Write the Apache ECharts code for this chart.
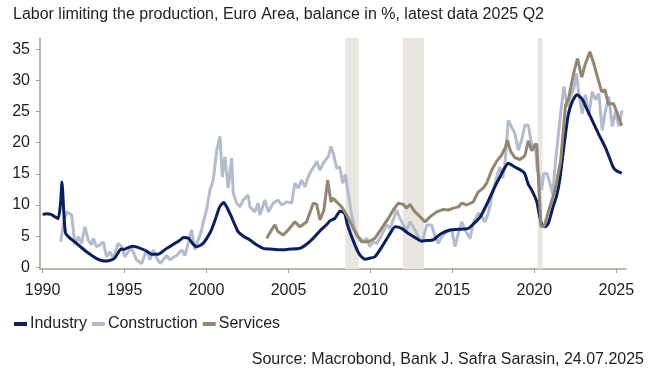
<!DOCTYPE html>
<html>
<head>
<meta charset="utf-8">
<script src="https://cdn.jsdelivr.net/npm/echarts@6/dist/echarts.min.js"></script>
<style>
html,body{margin:0;padding:0;background:#fff;}
#chart{width:655px;height:386px;}
</style>
</head>
<body>
<div id="chart"></div>
<script>
const titleText = 'Labor limiting the production, Euro Area, balance in %, latest data 2025 Q2';
const sourceText = 'Source: Macrobond, Bank J. Safra Sarasin, 24.07.2025';
const seriesNames = ['Industry', 'Construction', 'Services'];
const xTickLabels = [1990, 1995, 2000, 2005, 2010, 2015, 2020, 2025];
const yTickLabels = [0, 5, 10, 15, 20, 25, 30, 35];
const bandStarts = [2008.47, 2011.97, 2020.2];
const bandEnds = [2009.28, 2013.27, 2020.5];

const industryDates = [1990.0,1990.25,1990.5,1990.75,1990.95,1991.1,1991.18,1991.3,1991.4,1991.7,1992.07,1992.4,1992.68,1993.0,1993.3,1993.6,1993.9,1994.2,1994.4,1994.6,1994.75,1995.0,1995.25,1995.5,1995.8,1996.1,1996.4,1996.65,1997.05,1997.3,1997.55,1997.8,1998.07,1998.35,1998.6,1998.9,1999.15,1999.4,1999.6,1999.8,2000.05,2000.3,2000.55,2000.8,2001.05,2001.25,2001.5,2001.73,2001.93,2002.3,2002.65,2003.0,2003.46,2004.0,2004.5,2005.0,2005.7,2006.1,2006.5,2006.9,2007.3,2007.55,2007.83,2008.14,2008.3,2008.44,2008.6,2009.05,2009.35,2009.66,2009.95,2010.27,2010.7,2011.2,2011.5,2011.9,2012.3,2012.7,2013.1,2013.4,2013.83,2014.3,2014.85,2015.4,2015.97,2016.3,2016.7,2017.0,2017.3,2017.6,2017.9,2018.2,2018.4,2018.8,2019.1,2019.4,2019.63,2019.84,2020.14,2020.3,2020.45,2020.65,2020.85,2021.15,2021.36,2021.56,2021.87,2022.07,2022.3,2022.6,2022.89,2023.1,2023.4,2023.9,2024.3,2024.55,2024.8,2025.0,2025.33];
const industryValues = [8.5,8.6,8.5,8.1,7.8,10.5,13.7,8.5,5.5,4.6,3.85,3.1,2.5,1.9,1.4,1.1,1.0,1.2,1.5,2.3,2.9,2.9,3.2,3.4,3.2,2.9,2.5,2.1,2.1,2.5,3.0,3.4,3.85,4.3,4.8,4.65,3.8,3.3,3.5,3.85,4.8,6.0,7.8,9.7,10.4,9.6,8.2,6.8,5.7,4.9,4.4,3.7,3.05,2.9,2.8,2.9,3.05,3.7,4.65,5.8,6.8,7.5,7.85,9.0,8.9,8.6,6.8,3.6,2.0,1.3,1.45,1.7,3.3,5.45,6.5,6.25,5.45,4.8,4.2,4.3,4.4,5.4,6.0,6.1,6.25,7.0,8.1,9.6,11.3,13.0,14.5,16.0,16.7,16.1,15.7,15.1,13.3,12.4,10.6,8.5,6.85,6.5,7.05,9.8,11.5,14.3,20.8,24.5,26.5,27.7,27.1,26.0,24.3,21.5,19.4,17.8,16.1,15.5,15.1];

const constructionDates = [1991.1,1991.3,1991.46,1991.77,1991.87,1991.97,1992.17,1992.38,1992.58,1992.78,1992.99,1993.09,1993.29,1993.5,1993.7,1993.9,1994.1,1994.31,1994.61,1994.82,1995.02,1995.22,1995.43,1995.73,1996.04,1996.35,1996.55,1996.75,1996.96,1997.16,1997.36,1997.57,1997.77,1997.97,1998.18,1998.48,1998.68,1998.88,1999.09,1999.29,1999.49,1999.7,1999.8,2000.0,2000.21,2000.41,2000.62,2000.82,2000.96,2001.12,2001.32,2001.53,2001.63,2001.84,2002.04,2002.24,2002.54,2002.65,2002.95,2003.15,2003.26,2003.56,2003.77,2004.07,2004.37,2004.58,2004.89,2005.19,2005.39,2005.6,2005.8,2006.0,2006.2,2006.41,2006.61,2006.72,2006.92,2007.12,2007.43,2007.59,2007.73,2007.94,2008.14,2008.3,2008.47,2008.57,2008.68,2008.85,2009.05,2009.26,2009.56,2009.77,2009.97,2010.17,2010.38,2010.58,2010.78,2010.99,2011.19,2011.39,2011.6,2011.8,2012.0,2012.21,2012.41,2012.61,2012.82,2013.02,2013.22,2013.43,2013.73,2013.94,2014.14,2014.34,2014.65,2014.96,2015.16,2015.36,2015.57,2015.77,2016.07,2016.27,2016.58,2016.79,2016.99,2017.19,2017.4,2017.7,2017.9,2018.07,2018.21,2018.41,2018.61,2018.81,2019.02,2019.22,2019.42,2019.63,2019.79,2019.9,2020.04,2020.18,2020.34,2020.44,2020.58,2020.78,2020.95,2021.12,2021.29,2021.43,2021.6,2021.8,2022.01,2022.21,2022.41,2022.57,2022.71,2022.92,2023.12,2023.32,2023.53,2023.73,2023.93,2024.14,2024.34,2024.54,2024.75,2024.95,2025.15,2025.35];
const constructionValues = [4.1,7.5,8.9,8.4,6.0,3.6,4.9,3.85,6.5,4.4,3.6,4.65,3.3,3.6,4.1,1.7,2.5,1.44,3.85,3.3,1.7,2.5,3.05,1.2,0.6,2.8,1.2,2.8,1.5,0.6,1.2,1.9,1.2,1.6,1.9,2.8,1.9,3.85,6.0,2.8,4.4,6.0,7.3,9.2,12.4,14.0,18.8,21.0,14.5,17.7,12.7,17.5,11.9,10.3,9.7,10.8,11.6,9.7,8.9,10.3,8.4,10.8,8.9,10.3,10.8,10.0,10.5,10.3,13.5,12.7,14.0,12.9,14.5,15.6,16.4,17.0,15.6,16.7,17.8,19.4,18.3,15.9,16.1,13.5,14.9,13.0,11.3,8.4,6.0,4.9,4.2,4.65,3.3,4.1,3.85,4.65,5.7,6.8,6.25,7.6,9.2,7.85,6.8,6.0,7.3,6.5,5.45,4.4,4.6,6.8,6.8,4.9,3.85,4.9,5.7,6.0,3.3,5.45,7.3,6.0,4.65,7.05,8.7,8.1,7.3,8.7,11.3,14.5,16.1,14.3,16.7,23.6,22.5,21.5,18.8,20.4,22.8,22.8,20.4,18.8,19.9,15.6,14.5,12.4,15.1,15.0,13.5,11.7,17.0,20.4,24.7,29.0,25.8,27.4,28.7,31.1,27.9,24.7,27.7,24.4,28.2,26.9,27.9,22.0,25.2,27.4,22.6,25.0,22.6,25.2];

const servicesDates = [2003.67,2003.97,2004.17,2004.37,2004.68,2004.98,2005.39,2005.7,2006.11,2006.51,2006.72,2006.92,2007.16,2007.39,2007.59,2007.73,2007.94,2008.24,2008.55,2008.85,2009.16,2009.46,2009.87,2010.27,2010.68,2011.09,2011.39,2011.7,2012.0,2012.21,2012.41,2012.71,2012.92,2013.12,2013.33,2013.63,2014.04,2014.44,2014.75,2015.06,2015.36,2015.57,2015.87,2016.27,2016.58,2016.88,2017.09,2017.4,2017.7,2018.0,2018.21,2018.35,2018.55,2018.81,2019.12,2019.42,2019.63,2019.84,2020.0,2020.14,2020.4,2020.6,2020.9,2021.3,2021.6,2021.9,2022.1,2022.4,2022.63,2022.89,2023.09,2023.39,2023.59,2023.8,2024.1,2024.31,2024.51,2024.82,2025.02,2025.33];
const servicesValues = [4.65,6.0,6.8,5.7,5.2,6.0,7.3,6.5,7.3,10.3,10.1,7.6,9.2,14.0,10.5,11.1,10.5,9.7,8.4,6.8,5.2,4.1,4.1,4.65,6.25,7.85,9.2,10.3,10.1,9.5,10.1,8.9,8.4,7.85,7.3,8.1,8.9,9.3,9.2,9.5,9.7,10.3,10.0,10.5,12.1,12.7,13.5,15.6,17.0,18.0,19.1,20.4,18.6,17.6,17.3,17.9,20.3,18.7,19.5,19.8,6.6,6.6,9.3,12.8,17.0,26.0,27.2,31.2,33.5,30.5,32.5,34.6,33.0,31.0,28.2,28.5,26.2,26.3,25.0,22.7];

const colors = ['#0b1f5c', '#b3bbcd', '#928572'];
const axisColor = '#a89f95';
const textColor = '#1e1e1e';
const fontFamily = 'Liberation Sans, Arial, sans-serif';

function pairs(ds, vs) { return ds.map((d, i) => [d, vs[i]]); }

const chart = echarts.init(document.getElementById('chart'), null, {renderer: 'canvas'});
const option = {
  animation: false,
  backgroundColor: '#ffffff',
  title: [
    {text: titleText, left: 8, top: 2, textStyle: {fontFamily, fontSize: 16, fontWeight: 'normal', color: textColor}},
    {text: sourceText, right: 6, top: 347, textStyle: {fontFamily, fontSize: 16, fontWeight: 'normal', color: textColor}}
  ],
  legend: {
    data: seriesNames, left: 9, top: 311, icon: 'rect', itemWidth: 13, itemHeight: 4, itemGap: 5,
    textStyle: {fontFamily, fontSize: 16, color: textColor, padding: [0, 0, 0, -2]}
  },
  grid: {left: 40, right: 29, top: 38, bottom: 117},
  xAxis: {
    type: 'value', min: 1989.84, max: 2025.59,
    axisLine: {show: true, onZero: false, lineStyle: {color: axisColor, width: 1.5}},
    axisTick: {show: true, length: 4, customValues: xTickLabels, lineStyle: {color: axisColor}},
    axisLabel: {customValues: xTickLabels, margin: 14, fontFamily, fontSize: 16, color: textColor, formatter: v => String(v)},
    splitLine: {show: false}
  },
  yAxis: {
    type: 'value', min: -0.27, max: 36.8,
    axisLine: {show: true, onZero: false, lineStyle: {color: axisColor, width: 1.5}},
    axisTick: {show: true, length: 4, customValues: yTickLabels, lineStyle: {color: axisColor}},
    axisLabel: {customValues: yTickLabels, margin: 10, fontFamily, fontSize: 16, color: textColor},
    splitLine: {show: false}
  },
  series: [
    {
      name: 'bands', type: 'line', data: [], z: 1, silent: true,
      markArea: {silent: true, itemStyle: {color: '#e9e5e0'},
        data: bandStarts.map((s, i) => [{xAxis: s}, {xAxis: bandEnds[i]}])}
    },
    {name: seriesNames[0], type: 'line', z: 3, showSymbol: false, symbol: 'none', smooth: 0.2,
      lineStyle: {width: 3, color: colors[0]}, itemStyle: {color: colors[0]}, data: pairs(industryDates, industryValues)},
    {name: seriesNames[1], type: 'line', z: 2, showSymbol: false, symbol: 'none',
      lineStyle: {width: 3, color: colors[1]}, itemStyle: {color: colors[1]}, data: pairs(constructionDates, constructionValues)},
    {name: seriesNames[2], type: 'line', z: 4, showSymbol: false, symbol: 'none',
      lineStyle: {width: 3, color: colors[2]}, itemStyle: {color: colors[2]}, data: pairs(servicesDates, servicesValues)}
  ]
};
chart.setOption(option);
</script>
</body>
</html>
